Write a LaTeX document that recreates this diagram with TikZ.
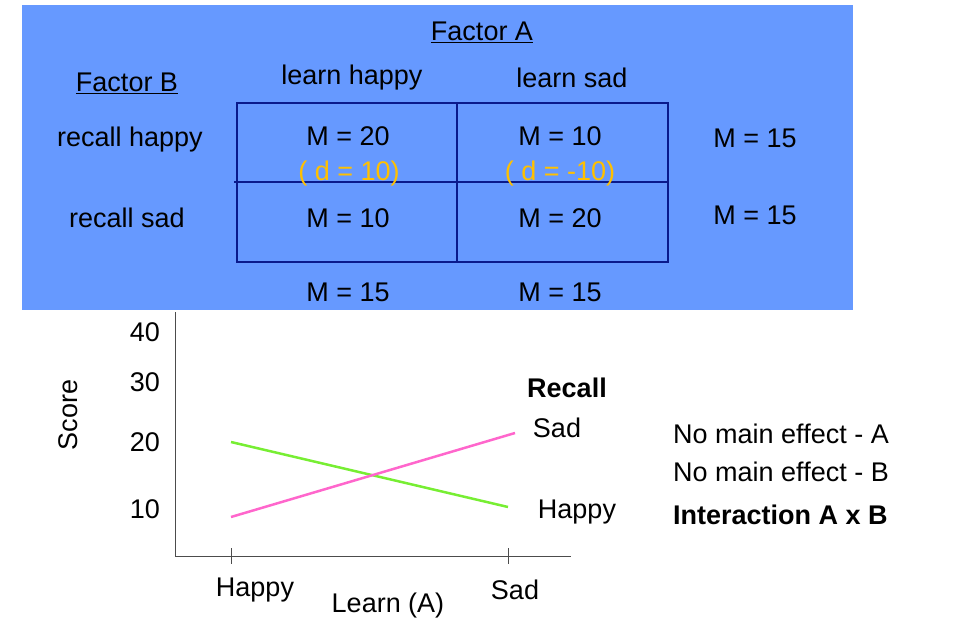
\documentclass[tikz,border=0pt]{standalone}
\usepackage{fontspec}
\setmainfont{Liberation Sans}
\begin{document}
\begin{tikzpicture}[x=1pt,y=-1pt,
  txt/.style={font=\fontsize{27}{30}\selectfont,inner sep=0pt},
  orng/.style={txt,text=dval},
  grid/.style={draw=navy,line width=2pt}]
\definecolor{bg}{HTML}{6699FF}
\definecolor{navy}{HTML}{0A1A8C}
\definecolor{dval}{HTML}{FFC000}
\definecolor{gline}{HTML}{77EE33}
\definecolor{pline}{HTML}{FF66CC}
\useasboundingbox (0,0) rectangle (954,624);
\fill[bg] (22,5) rectangle (853,310);
\draw[grid] (237,103) rectangle (668,262);
\draw[grid] (457,103) -- (457,262);
\draw[grid] (234,182) -- (668,182);
\node[txt] (fa) at (482,32) {\underline{Factor A}};
\node[txt] (fb) at (127,83) {\underline{Factor B}};
\node[txt] (lh) at (352,78) {learn happy};
\node[txt] (ls) at (572,78) {learn sad};
\node[txt] (rh) at (130,140) {recall happy};
\node[txt] (rs) at (127,218) {recall sad};
\node[txt] (c11) at (348,136) {M = 20};
\node[txt] (c12) at (560,136) {M = 10};
\node[txt] (c21) at (348,218) {M = 10};
\node[txt] (c22) at (560,218) {M = 20};
\node[orng] (d1) at (349,174) {( d = 10)};
\node[orng] (d2) at (560,174) {( d = -10)};
\node[txt] (r1) at (755,138) {M = 15};
\node[txt] (r2) at (755,215) {M = 15};
\node[txt] (b1) at (348,292) {M = 15};
\node[txt] (b2) at (560,292) {M = 15};
% graph
\coordinate (o) at (175,556);
\coordinate (yt) at (175,312);
\coordinate (xe) at (571,556);
\draw[line width=1pt,black!70] (yt) -- (o) -- (xe);
\draw[line width=1pt,black!70] (231,548) -- (231,564) (508,548) -- (508,564);
\node[txt,anchor=east] (y40) at (160,332) {40};
\node[txt,anchor=east] (y30) at (160,382) {30};
\node[txt,anchor=east] (y20) at (160,442) {20};
\node[txt,anchor=east] (y10) at (160,509) {10};
\node[txt,rotate=90] (sc) at (68,415) {Score};
\node[txt] (xh) at (255,590) {Happy};
\node[txt] (xs) at (515,590) {Sad};
\node[txt] (xl) at (388,606) {Learn (A)};
\coordinate (g1) at (231,442); \coordinate (g2) at (508,507);
\coordinate (p1) at (231,517); \coordinate (p2) at (515,433);
\draw[gline,line width=2.5pt] (g1) -- (g2);
\draw[pline,line width=2.5pt] (p1) -- (p2);
\node[txt,font=\fontsize{27}{30}\selectfont\bfseries] (rc) at (567,388) {Recall};
\node[txt] (ss) at (557,428) {Sad};
\node[txt] (hh) at (577,512) {Happy};
\node[txt,anchor=west] (t1) at (673,434) {No main effect - A};
\node[txt,anchor=west] (t2) at (673,472) {No main effect - B};
\node[txt,anchor=west,font=\fontsize{27}{30}\selectfont\bfseries] (t3) at (673,515) {Interaction A x B};
\end{tikzpicture}
\end{document}
